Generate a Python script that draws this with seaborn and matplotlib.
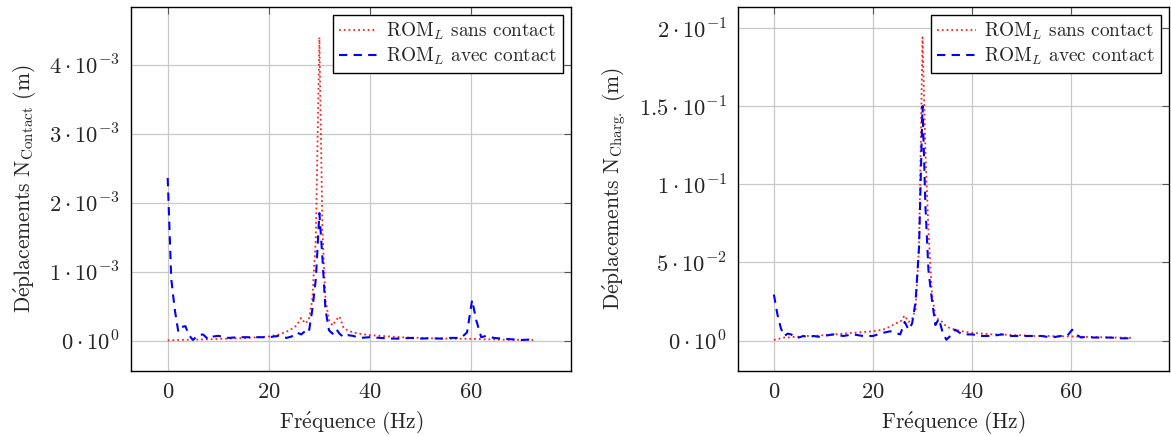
import matplotlib
matplotlib.use("Agg")
import pandas as pd
import seaborn as sns
from matplotlib import pyplot as plt
from matplotlib.ticker import FixedLocator, FixedFormatter

# frequencies (Hz), shared by all curves
freq = [0, 0.7, 1.4, 2.1, 2.8, 3.5, 4.2, 5, 6, 7,
        8, 9, 10, 12, 14, 16, 18, 20, 22, 23.5,
        24.5, 25.5, 26.4, 27.2, 27.9, 28.6, 29.3, 30, 30.6, 31.2,
        31.9, 32.6, 33.3, 34, 34.8, 35.6, 36.6, 38, 40, 42,
        44, 46, 48, 50, 52, 54, 56, 58, 59.2, 60.2,
        61, 62, 63, 64.5, 66, 68, 70, 72.5]

# contact node displacement (x 1e-3 m)
contact_sans = [0.005, 0.006, 0.008, 0.01, 0.012, 0.012, 0.013, 0.015, 0.016, 0.018,
                0.02, 0.022, 0.025, 0.03, 0.035, 0.04, 0.05, 0.06, 0.09, 0.13,
                0.17, 0.22, 0.33, 0.25, 0.3, 0.6, 1.5, 4.4, 1.6, 0.6,
                0.3, 0.22, 0.3, 0.35, 0.18, 0.15, 0.12, 0.1, 0.08, 0.07,
                0.06, 0.05, 0.045, 0.04, 0.035, 0.03, 0.03, 0.028, 0.027, 0.026,
                0.025, 0.022, 0.02, 0.018, 0.015, 0.013, 0.012, 0.01]
contact_avec = [2.36, 0.9, 0.45, 0.13, 0.2, 0.21, 0.08, 0.01, 0.08, 0.09,
                0.02, 0.06, 0.07, 0.04, 0.05, 0.05, 0.05, 0.05, 0.07, 0.04,
                0.06, 0.12, 0.09, 0.14, 0.12, 0.45, 0.9, 1.85, 1.2, 0.45,
                0.15, 0.1, 0.17, 0.1, 0.05, 0.08, 0.07, 0.04, 0.05, 0.04,
                0.03, 0.03, 0.04, 0.03, 0.035, 0.03, 0.04, 0.04, 0.12, 0.59,
                0.3, 0.05, 0.07, 0.04, 0.03, 0.02, 0.01, 0.02]

# loading node displacement (m)
charg_sans = [0.0005, 0.001, 0.0015, 0.002, 0.002, 0.0022, 0.0025, 0.0025, 0.003, 0.003,
              0.003, 0.0032, 0.0035, 0.004, 0.0045, 0.005, 0.0055, 0.006, 0.007, 0.009,
              0.011, 0.012, 0.016, 0.012, 0.014, 0.02, 0.06, 0.194, 0.12, 0.07,
              0.03, 0.016, 0.013, 0.012, 0.009, 0.008, 0.007, 0.006, 0.005, 0.0045,
              0.004, 0.004, 0.0035, 0.0035, 0.003, 0.003, 0.003, 0.0028, 0.0027, 0.0027,
              0.0026, 0.0025, 0.0024, 0.0023, 0.0022, 0.002, 0.002, 0.0018]
charg_avec = [0.0295, 0.017, 0.008, 0.003, 0.0045, 0.004, 0.002, 0.002, 0.003, 0.002,
              0.003, 0.0025, 0.003, 0.004, 0.003, 0.004, 0.003, 0.003, 0.005, 0.006,
              0.005, 0.004, 0.012, 0.007, 0.011, 0.025, 0.06, 0.15, 0.085, 0.045,
              0.026, 0.01, 0.014, 0.006, 0.0006, 0.003, 0.007, 0.004, 0.004, 0.003,
              0.003, 0.004, 0.003, 0.003, 0.003, 0.003, 0.002, 0.003, 0.003, 0.007,
              0.004, 0.002, 0.0025, 0.002, 0.002, 0.002, 0.0015, 0.0015]

x_ticks = [0, 20, 40, 60]
left_ticks = [0, 1e-3, 2e-3, 3e-3, 4e-3]
left_labels = [r"$0\cdot10^{0}$", r"$1\cdot10^{-3}$", r"$2\cdot10^{-3}$",
               r"$3\cdot10^{-3}$", r"$4\cdot10^{-3}$"]
right_ticks = [0, 0.05, 0.1, 0.15, 0.2]
right_labels = [r"$0\cdot10^{0}$", r"$5\cdot10^{-2}$", r"$1\cdot10^{-1}$",
                r"$1.5\cdot10^{-1}$", r"$2\cdot10^{-1}$"]

sns.set_style("white")
plt.rcParams["font.family"] = ["cmr10", "DejaVu Serif"]
plt.rcParams["mathtext.fontset"] = "cm"
plt.rcParams["axes.formatter.use_mathtext"] = True
plt.rcParams["axes.unicode_minus"] = False

df = pd.DataFrame({
    "f": freq,
    "c_sans": [v * 1e-3 for v in contact_sans],
    "c_avec": [v * 1e-3 for v in contact_avec],
    "g_sans": charg_sans,
    "g_avec": charg_avec,
})

fig = plt.figure(figsize=(11.71, 4.36), dpi=100)
ax1 = fig.add_axes([0.1119, 0.1491, 0.3757, 0.8349])
ax2 = fig.add_axes([0.6302, 0.1491, 0.3681, 0.8349])

lab_sans = r"ROM$_L$ sans contact"
lab_avec = r"ROM$_L$ avec contact"
fs = 15.5

for ax, ys, ya, ticks, labels, ylab in [
        (ax1, "c_sans", "c_avec", left_ticks, left_labels,
         r"$\mathrm{D\acute{e}placements\ N_{Contact}\ (m)}$"),
        (ax2, "g_sans", "g_avec", right_ticks, right_labels,
         r"$\mathrm{D\acute{e}placements\ N_{Charg.}\ (m)}$")]:
    sns.lineplot(data=df, x="f", y=ys, ax=ax, color="#ff2020", linestyle=":",
                 linewidth=1.3, label=lab_sans)
    sns.lineplot(data=df, x="f", y=ya, ax=ax, color="#0000ff", linestyle=(0, (4, 3)),
                 linewidth=1.5, label=lab_avec)
    ymax = max(df[ys].max(), df[ya].max())
    ax.set_xlim(-7.25, 79.75)
    ax.set_ylim(-0.1 * ymax, 1.1 * ymax)
    ax.xaxis.set_major_locator(FixedLocator(x_ticks))
    ax.yaxis.set_major_locator(FixedLocator(ticks))
    ax.yaxis.set_major_formatter(FixedFormatter(labels))
    ax.grid(True, color="#c8c8c8", linewidth=0.9)
    ax.set_axisbelow(True)
    ax.tick_params(direction="in", length=5, width=0.8, top=True, right=True,
                   labelsize=16.3, color="#555555", pad=8)
    for s in ax.spines.values():
        s.set_color("black")
        s.set_linewidth(1.0)
    ax.set_xlabel(r"$\mathrm{Fr\acute{e}quence\ (Hz)}$", fontsize=fs, labelpad=5)
    ax.set_ylabel(ylab, fontsize=fs, labelpad=8)
    leg = ax.legend(loc="upper right", fontsize=13.9, frameon=True, fancybox=False,
                    framealpha=1, edgecolor="black", handlelength=2.0,
                    handletextpad=0.45, borderaxespad=0.42, borderpad=0.3,
                    labelspacing=0.2)
    leg.get_frame().set_linewidth(1.0)

fig.savefig("out.png", dpi=100)
